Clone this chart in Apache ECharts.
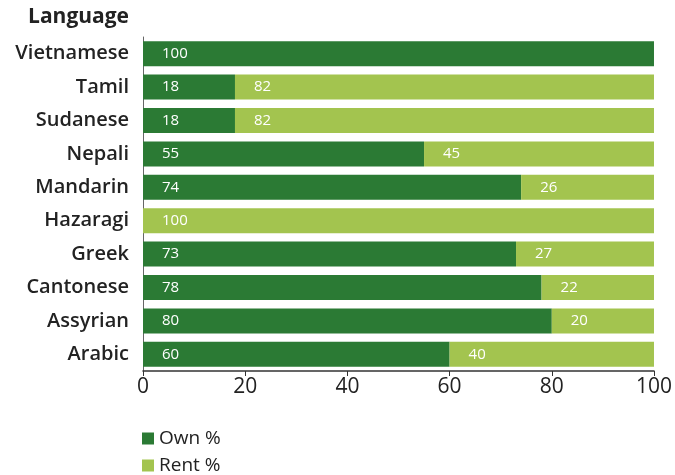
<!DOCTYPE html>
<html><head><meta charset="utf-8">
<script src="https://cdn.jsdelivr.net/npm/echarts@6/dist/echarts.min.js"></script>
<style>html,body{margin:0;padding:0;background:#fff}#c{width:675px;height:475px}</style>
</head><body><div id="c"></div>
<script>
var categories = ['Vietnamese','Tamil','Sudanese','Nepali','Mandarin','Hazaragi','Greek','Cantonese','Assyrian','Arabic'];
var ownValues = [100,18,18,55,74,0,73,78,80,60];
var rentValues = [0,82,82,45,26,100,27,22,20,40];
var xTicks = [0,20,40,60,80,100];

var chart = echarts.init(document.getElementById('c'));
var font = '"Open Sans", sans-serif';
var lbl = {
  show: true, position: 'insideLeft', distance: 19, color: '#fff', fontSize: 15, fontFamily: font,
  formatter: function(p){ return p.value === 0 ? '' : String(p.value); }
};
function legendFor(name, top){
  return {
    orient: 'vertical', left: 137, top: top, itemWidth: 12, itemHeight: 12, itemGap: 0,
    icon: 'rect', textStyle: {fontSize: 19, color: '#222', fontFamily: font},
    data: [name]
  };
}
chart.setOption({
  animation: false,
  grid: {left: 143, right: 20, top: 37, bottom: 104},
  graphic: [{type: 'text', right: 546, top: 7, style: {text: 'Language', font: 'bold 21px ' + font, fill: '#222', textAlign: 'right'}}],
  xAxis: {
    type: 'value', min: 0, max: 100, interval: 20,
    axisLine: {show: true, lineStyle: {color: '#333', width: 1.5}},
    axisTick: {show: true, length: 5, lineStyle: {color: '#333'}},
    splitLine: {show: false},
    axisLabel: {fontSize: 21, color: '#222', fontFamily: font, margin: 6,
      formatter: function(v){ return xTicks.indexOf(v) >= 0 ? String(v) : ''; }}
  },
  yAxis: {
    type: 'category', data: categories, inverse: true,
    axisLine: {show: true, lineStyle: {color: '#666', width: 1}},
    axisTick: {show: false},
    axisLabel: {fontSize: 20, fontWeight: 600, color: '#222', fontFamily: font, margin: 14}
  },
  legend: [legendFor('Own %', 424), legendFor('Rent %', 451)],
  series: [
    {name: 'Own %', type: 'bar', stack: 's', data: ownValues, barWidth: 25, itemStyle: {color: '#2b7a34'}, label: lbl},
    {name: 'Rent %', type: 'bar', stack: 's', data: rentValues, barWidth: 25, itemStyle: {color: '#a3c44f'}, label: lbl}
  ]
});
</script></body></html>
